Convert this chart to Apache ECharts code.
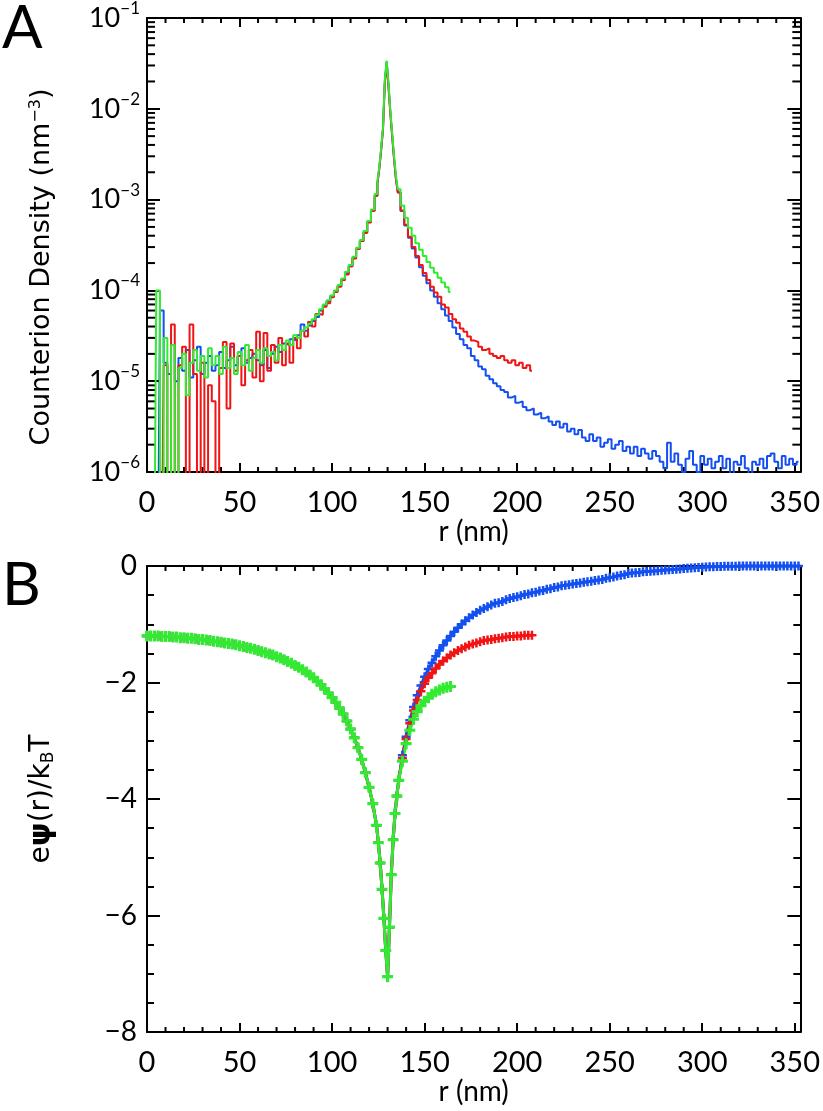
<!DOCTYPE html>
<html><head><meta charset="utf-8">
<script src="https://cdn.jsdelivr.net/npm/echarts@6/dist/echarts.min.js"></script>
<style>html,body{margin:0;padding:0;background:#fff}#c{width:823px;height:1111px}</style>
</head><body><div id="c"></div>
<script>
// ---------------- DATA ----------------
// bin centres (nm): 2 nm bins, 1 nm bins around the peak
const rBins = [0,2,4,6,8,10,12,14,16,18,20,22,24,26,28,30,32,34,36,38,40,42,44,46,48,50,52,54,56,58,60,62,64,66,68,70,72,74,76,78,80,82,84,86,88,90,92,94,96,98,100,102,104,106,108,110,112,114,116,118,120,122,
124,125,126,127,128,129,130,131,132,133,134,135,136,
138,140,142,144,146,148,150,152,154,156,158,160,162,164,166,168,170,172,174,176,178,180,182,184,186,188,190,192,194,196,198,200,202,204,206,208,210,212,214,216,218,220,222,224,226,228,230,232,234,236,238,240,242,244,246,248,250,252,254,256,258,260,262,264,266,268,270,272,274,276,278,280,282,284,286,288,290,292,294,296,298,300,302,304,306,308,310,312,314,316,318,320,322,324,326,328,330,332,334,336,338,340,342,344,346,348,350,352];

// counterion density (nm^-3); 1e-7 = empty bin (below axis)
const densityBlue = [
1e-7,1e-7,1e-7,1e-7,6e-5,1.6e-5,1.2e-5,2.5e-5,1.0e-5,1.8e-5,
1.3e-5,2.2e-5,1.1e-5,1.7e-5,2.4e-5,1.2e-5,1.6e-5,1.9e-5,1.3e-5,1.5e-5,
2.1e-5,1.4e-5,1.7e-5,2.4e-5,1.5e-5,1.9e-5,2.3e-5,1.6e-5,1.8e-5,2.0e-5,
1.7e-5,1.5e-5,2.2e-5,1.4e-5,2.0e-5,2.4e-5,2.1e-5,2.6e-5,2.5e-5,2.9e-5,
2.8e-5,3.2e-5,4.2e-5,3.6e-5,4.1e-5,4.6e-5,5.1e-5,6.0e-5,6.8e-5,7.6e-5,
8.6e-5,9.8e-5,1.12e-4,1.32e-4,1.55e-4,1.85e-4,2.3e-4,2.9e-4,3.5e-4,4.4e-4,5.7e-4,7.6e-4,
1.1e-3,1.5e-3,2.2e-3,3.5e-3,6.0e-3,2.0e-2,3.3e-2,1.8e-2,9.0e-3,5.0e-3,2.8e-3,1.7e-3,1.2e-3,
7.5e-4,5.2e-4,3.8e-4,2.9e-4,2.3e-4,1.8e-4,1.45e-4,1.2e-4,1.0e-4,8.5e-5,7.2e-5,
6.2e-5,5.3e-5,4.6e-5,3.9e-5,3.3e-5,2.9e-5,2.5e-5,2.3e-5,1.9e-5,1.7e-5,
1.45e-5,1.35e-5,1.15e-5,1.05e-5,9.5e-6,8.8e-6,8.0e-6,7.6e-6,6.6e-6,6.9e-6,
5.8e-6,6.0e-6,5.2e-6,4.8e-6,5.0e-6,4.3e-6,4.5e-6,3.9e-6,4.1e-6,3.6e-6,
3.3e-6,3.6e-6,3.1e-6,3.4e-6,2.8e-6,3.0e-6,2.6e-6,2.9e-6,2.4e-6,2.2e-6,
2.6e-6,2.2e-6,2.4e-6,1.9e-6,2.1e-6,2.3e-6,1.8e-6,2.0e-6,2.2e-6,1.7e-6,
1.9e-6,1.6e-6,1.9e-6,1.5e-6,1.8e-6,1.6e-6,1.4e-6,1.7e-6,1.5e-6,1.3e-6,
1.1e-6,2.1e-6,1.3e-6,1.6e-6,1.2e-6,1.0e-6,1.4e-6,1.7e-6,1.2e-6,1.0e-6,
1.5e-6,1.2e-6,1.4e-6,1.1e-6,1.3e-6,1.5e-6,1.1e-6,1.4e-6,9e-7,1.3e-6,
1.2e-6,1.5e-6,1.1e-6,9e-7,1.3e-6,1.2e-6,1.4e-6,1.1e-6,1.5e-6,1.6e-6,
1.3e-6,1.1e-6,1.5e-6,1.2e-6,1.4e-6,1.2e-6,1.3e-6];

const densityRed = [
1e-7,1e-7,1e-7,1e-7,1e-7,1.5e-5,1e-7,4.2e-5,1e-7,1.5e-5,
2.4e-5,1e-7,4.2e-5,1.2e-5,1e-7,1.6e-5,1e-7,9e-6,6e-6,1e-7,
1.4e-5,2.7e-5,5e-6,2.6e-5,1.3e-5,1.9e-5,9e-6,1.7e-5,2.2e-5,1.1e-5,
3.5e-5,1.0e-5,3.4e-5,1.3e-5,2.5e-5,1.6e-5,3.0e-5,1.5e-5,2.6e-5,1.6e-5,
3.0e-5,2.3e-5,3.6e-5,3.1e-5,4.5e-5,4.0e-5,5.5e-5,5.4e-5,6.6e-5,7.2e-5,
8.4e-5,9.6e-5,1.1e-4,1.3e-4,1.5e-4,1.85e-4,2.25e-4,2.85e-4,3.5e-4,4.3e-4,5.6e-4,7.5e-4,
1.1e-3,1.5e-3,2.2e-3,3.5e-3,5.9e-3,1.9e-2,3.2e-2,1.7e-2,8.8e-3,4.9e-3,2.8e-3,1.7e-3,1.2e-3,
7.6e-4,5.3e-4,3.9e-4,3.0e-4,2.4e-4,1.9e-4,1.55e-4,1.3e-4,1.1e-4,9.5e-5,8.5e-5,
7.0e-5,6.5e-5,5.5e-5,4.8e-5,4.4e-5,3.8e-5,3.5e-5,3.1e-5,2.8e-5,2.7e-5,
2.4e-5,2.2e-5,2.3e-5,2.0e-5,1.9e-5,1.8e-5,1.9e-5,1.7e-5,1.6e-5,1.7e-5,
1.5e-5,1.6e-5,1.4e-5,1.5e-5,1.3e-5];

const densityGreen = [
1e-7,1e-7,1e-7,1.0e-4,1e-7,3.0e-5,1e-7,2.5e-5,1e-7,1.4e-5,
2.0e-5,7e-6,1.6e-5,2.2e-5,1.3e-5,1.9e-5,1.1e-5,2.3e-5,1.5e-5,1.9e-5,
1.2e-5,2.4e-5,1.4e-5,1.8e-5,1.2e-5,2.1e-5,1.5e-5,2.5e-5,1.3e-5,1.8e-5,
2.2e-5,1.6e-5,2.3e-5,1.9e-5,2.1e-5,1.7e-5,2.5e-5,2.2e-5,2.8e-5,2.5e-5,
3.2e-5,3.0e-5,3.6e-5,3.9e-5,4.3e-5,4.8e-5,5.4e-5,6.2e-5,7.0e-5,7.8e-5,
8.8e-5,1.0e-4,1.15e-4,1.35e-4,1.6e-4,1.9e-4,2.35e-4,2.95e-4,3.6e-4,4.5e-4,5.8e-4,7.8e-4,
1.15e-3,1.6e-3,2.3e-3,3.7e-3,6.2e-3,2.1e-2,3.4e-2,1.9e-2,9.4e-3,5.3e-3,3.0e-3,1.85e-3,1.3e-3,
8.6e-4,6.3e-4,4.9e-4,4.0e-4,3.3e-4,2.8e-4,2.4e-4,2.05e-4,1.78e-4,1.56e-4,1.38e-4,
1.22e-4,1.08e-4,9.6e-5];

// reduced potential e*psi/kT ; r = 0..136 where the three curves coincide
const potentialInner = [
-1.20,-1.20,-1.20,-1.20,-1.21,-1.21,-1.21,-1.22,-1.22,-1.23,
-1.23,-1.24,-1.24,-1.25,-1.26,-1.26,-1.27,-1.28,-1.29,-1.30,
-1.31,-1.32,-1.33,-1.34,-1.35,-1.37,-1.38,-1.40,-1.41,-1.43,
-1.45,-1.47,-1.49,-1.51,-1.53,-1.56,-1.58,-1.61,-1.64,-1.67,
-1.71,-1.74,-1.78,-1.82,-1.87,-1.92,-1.98,-2.04,-2.11,-2.18,
-2.26,-2.34,-2.44,-2.54,-2.66,-2.80,-2.95,-3.12,-3.32,-3.55,-3.80,-4.08,
-4.45,-4.75,-5.10,-5.55,-6.05,-6.60,-7.05,-6.20,-5.30,-4.70,-4.25,-3.95,-3.68];
// r = 138 .. end
const potentialBlueOuter = [
-3.25,-2.93,-2.65,-2.42,-2.22,-2.05,-1.90,-1.77,-1.66,-1.55,
-1.45,-1.36,-1.28,-1.20,-1.13,-1.06,-1.00,-0.94,-0.89,-0.84,
-0.80,-0.76,-0.73,-0.70,-0.67,-0.64,-0.63,-0.61,-0.58,-0.56,
-0.54,-0.53,-0.51,-0.49,-0.48,-0.46,-0.45,-0.43,-0.42,-0.40,
-0.39,-0.37,-0.36,-0.34,-0.33,-0.32,-0.31,-0.30,-0.29,-0.28,
-0.27,-0.26,-0.25,-0.24,-0.23,-0.21,-0.20,-0.19,-0.17,-0.16,
-0.15,-0.13,-0.12,-0.115,-0.11,-0.10,-0.095,-0.09,-0.085,-0.08,
-0.075,-0.07,-0.065,-0.06,-0.055,-0.05,-0.045,-0.04,-0.035,-0.03,
-0.025,-0.02,-0.017,-0.014,-0.012,-0.01,-0.008,-0.006,-0.005,-0.004,
-0.003,-0.002,-0.001,-0.001,0,0,0,0,0,0,
0,0,0,0,0,0,0,0];
const potentialRedOuter = [
-3.30,-2.97,-2.70,-2.48,-2.30,-2.15,-2.02,-1.92,-1.84,-1.76,
-1.69,-1.63,-1.58,-1.53,-1.49,-1.45,-1.42,-1.39,-1.36,-1.34,
-1.32,-1.30,-1.28,-1.27,-1.26,-1.25,-1.24,-1.23,-1.22,-1.21,
-1.21,-1.20,-1.20,-1.19,-1.19,-1.19];
const potentialGreenOuter = [
-3.35,-3.05,-2.82,-2.63,-2.50,-2.40,-2.32,-2.26,-2.20,-2.16,-2.13,-2.10,-2.08,-2.07];

// tick positions
const xMajorTicks = [0,50,100,150,200,250,300,350];
const xMinorTicks = [10,20,30,40,60,70,80,90,110,120,130,140,160,170,180,190,210,220,230,240,260,270,280,290,310,320,330,340];
const logMinorTicks = [2e-6,3e-6,4e-6,5e-6,6e-6,7e-6,8e-6,9e-6,2e-5,3e-5,4e-5,5e-5,6e-5,7e-5,8e-5,9e-5,2e-4,3e-4,4e-4,5e-4,6e-4,7e-4,8e-4,9e-4,2e-3,3e-3,4e-3,5e-3,6e-3,7e-3,8e-3,9e-3,2e-2,3e-2,4e-2,5e-2,6e-2,7e-2,8e-2,9e-2];

// ---------------- CHART ----------------
const FONT = 'Lato';
const NAMEFONT = 'DejaVu Sans';
const X_MAX = 353;
const BLUE = '#1450f0', RED = '#f01414', GREEN = '#33ea33';
const pairs = (arr) => arr.map((v, i) => [rBins[i], v]);
const potBlue = potentialInner.concat(potentialBlueOuter);
const potRed = potentialInner.concat(potentialRedOuter);
const potGreen = potentialInner.concat(potentialGreenOuter);

const tickStyle = {color:'#000', width:2};
const axisLineStyle = {color:'#000', width:2};
function xAxisDef(grid, pos, showLabel, name) {
  return {
    type:'value', gridIndex:grid, position:pos, min:0, max:X_MAX, interval:50,
    axisLine:{show:true, onZero:false, lineStyle:axisLineStyle},
    axisTick:{show:true, inside:true, length:9, lineStyle:tickStyle},
    splitLine:{show:false},
    axisLabel:{show:showLabel, margin:16, fontSize:29, fontFamily:FONT, color:'#000',
      formatter:(v)=> xMajorTicks.indexOf(v) >= 0 ? String(v) : ''},
    name: name || '', nameLocation:'middle', nameGap:39,
    nameTextStyle:{fontSize:28, fontFamily:FONT, color:'#000'}
  };
}
const logLabel = (v) => {
  const e = Math.round(Math.log10(v));
  return '{a|10}{b|\u2212' + Math.abs(e) + '}';
};
function logAxisDef(pos, showLabel) {
  return {
    type:'log', logBase:10, gridIndex:0, position:pos, min:1e-6, max:0.1,
    axisLine:{show:true, onZero:false, lineStyle:axisLineStyle},
    axisTick:{show:true, inside:true, length:13, lineStyle:tickStyle},
    splitLine:{show:false},
    axisLabel:{show:showLabel, margin:7, formatter:logLabel, color:'#000',
      rich:{a:{fontSize:27, fontFamily:FONT, lineHeight:36, color:'#000'},
            b:{fontSize:17, fontFamily:FONT, verticalAlign:'top', lineHeight:17, color:'#000'}}},
    name: showLabel ? 'Counterion Density (nm{s|\u22123})' : '',
    nameLocation:'middle', nameGap:92, nameRotate:90,
    nameTextStyle:{fontSize:27, fontFamily:NAMEFONT, color:'#000', padding:[0,44,0,0],
      rich:{s:{fontSize:16, fontFamily:NAMEFONT, verticalAlign:'top', lineHeight:14, color:'#000'}}}
  };
}
function potAxisDef(pos, showLabel) {
  return {
    type:'value', gridIndex:1, position:pos, min:-8, max:0, interval:2,
    axisLine:{show:true, onZero:false, lineStyle:axisLineStyle},
    axisTick:{show:true, inside:true, length:13, lineStyle:tickStyle},
    minorTick:{show:true, splitNumber:4, length:7, lineStyle:tickStyle},
    splitLine:{show:false},
    axisLabel:{show:showLabel, margin:10, fontSize:28, fontFamily:FONT, color:'#000',
      formatter:(v)=> v === 0 ? '0' : '\u2212' + Math.abs(v)},
    name: showLabel ? 'e{p|\u03c8}(r)/k{sub|B}T' : '',
    nameLocation:'middle', nameGap:90, nameRotate:90,
    nameTextStyle:{fontSize:28, fontFamily:NAMEFONT, color:'#000',
      rich:{p:{fontSize:30, fontWeight:'bold', fontFamily:NAMEFONT, color:'#000'},
            sub:{fontSize:17, fontFamily:NAMEFONT, verticalAlign:'bottom', lineHeight:14, color:'#000'}}}
  };
}
function ln(x1,y1,x2,y2){return {type:'line', shape:{x1,y1,x2,y2}, style:{stroke:'#000', lineWidth:2}};}
function xMinorSeries(xIdx, yIdx, yLo, yHi) {
  return {type:'custom', xAxisIndex:xIdx, yAxisIndex:yIdx, silent:true, z:1,
    data: xMinorTicks.map(x=>[x, yLo]),
    renderItem:(p, api)=>{
      const x = api.value(0);
      const b = api.coord([x, yLo]), t = api.coord([x, yHi]);
      return {type:'group', children:[ln(b[0], b[1], b[0], b[1]-5), ln(t[0], t[1], t[0], t[1]+5)]};
    }};
}
const logMinorSeries = {type:'custom', xAxisIndex:0, yAxisIndex:0, silent:true, z:1,
  data: logMinorTicks.map(v=>[0, v]),
  renderItem:(p, api)=>{
    const v = api.value(1);
    const l = api.coord([0, v]), r = api.coord([X_MAX, v]);
    return {type:'group', children:[ln(l[0], l[1], l[0]+8, l[1]), ln(r[0], r[1], r[0]-8, r[1])]};
  }};
function densSeries(arr, color) {
  return {type:'line', xAxisIndex:0, yAxisIndex:0, step:'middle', showSymbol:false, clip:true,
    data:pairs(arr), lineStyle:{color, width:2}, itemStyle:{color}, z:3};
}
const PLUS = 'path://M0,3.6L10,3.6L10,6.4L0,6.4ZM3.6,0L6.4,0L6.4,10L3.6,10Z';
function potSeries(arr, color, size) {
  return {type:'line', xAxisIndex:2, yAxisIndex:2, showSymbol:true, showAllSymbol:true, symbol:PLUS, symbolSize:size, clip:true,
    data:pairs(arr), lineStyle:{color, width:3}, itemStyle:{color}, z:3};
}

const chart = echarts.init(document.getElementById('c'), null, {renderer:'canvas'});
chart.setOption({
  animation:false,
  backgroundColor:'#fff',
  title:[
    {text:'A', left:-3, top:-6, textStyle:{fontSize:60, fontWeight:'normal', fontFamily:FONT, color:'#000'}},
    {text:'B', left:-3, top:551, textStyle:{fontSize:60, fontWeight:'normal', fontFamily:FONT, color:'#000'}}
  ],
  grid:[
    {left:147, top:7, width:655, height:465},
    {left:147, top:566, width:655, height:466}
  ],
  xAxis:[
    xAxisDef(0, 'bottom', true, 'r (nm)'),
    xAxisDef(0, 'top', false),
    xAxisDef(1, 'bottom', true, 'r (nm)'),
    xAxisDef(1, 'top', false)
  ],
  yAxis:[
    logAxisDef('left', true),
    logAxisDef('right', false),
    potAxisDef('left', true),
    potAxisDef('right', false)
  ],
  series:[
    logMinorSeries,
    xMinorSeries(0, 0, 1e-6, 0.1),
    xMinorSeries(2, 2, -8, 0),
    densSeries(densityBlue, BLUE),
    densSeries(densityRed, RED),
    densSeries(densityGreen, GREEN),
    potSeries(potBlue, BLUE, 9),
    potSeries(potRed, RED, 9),
    potSeries(potGreen, GREEN, 11)
  ]
});
</script>
</body></html>
